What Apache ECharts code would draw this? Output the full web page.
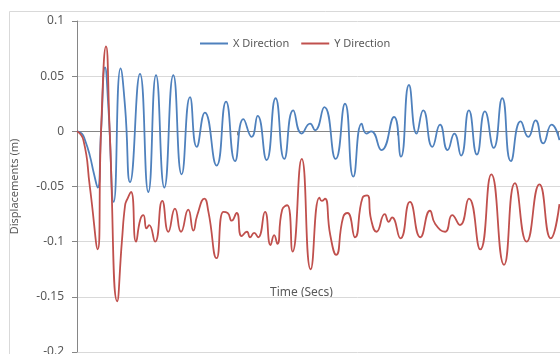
<!DOCTYPE html>
<html>
<head>
<meta charset="utf-8">
<script src="https://cdn.jsdelivr.net/npm/echarts@6/dist/echarts.min.js"></script>
<style>
html,body{margin:0;padding:0;background:#fff;overflow:hidden;width:560px;height:354px;}
#c{width:640px;height:354px;}
</style>
</head>
<body>
<div id="c"></div>
<script>
// Time (s) and displacement (m)
const xDirTime = [0,0.3,0.5,0.8,1.05,1.29,1.5,1.75,1.95,2.29,2.72,3.0,3.31,3.93,4.45,4.93,5.45,6.01,6.53,7.05,7.47,7.98,8.71,9.30,9.86,10.38,10.9,11.27,11.83,12.39,12.93,13.49,14.02,14.54,14.85,15.43,16.14,16.72,17.24,17.76,18.05,18.35,19.0,19.78,20.21,20.71,21.19,21.6,22.17,22.65,23.12,23.54,23.96,24.45,24.95,25.45,26.0,26.53,27.07,27.68,28.16,28.61,29.09,29.61,30.1];
const xDirDisp = [0,-0.002,-0.008,-0.022,-0.038,-0.051,0.0,0.058,0.024,-0.064,0.057,0.022,-0.046,0.052,-0.055,0.051,-0.051,0.051,-0.039,0.031,-0.014,0.017,-0.031,0.027,-0.027,0.011,-0.005,0.014,-0.026,0.030,-0.025,0.019,-0.002,0.007,0.001,0.022,-0.025,0.025,-0.041,0.007,-0.002,0.0,-0.017,0.013,-0.023,0.042,-0.002,0.019,-0.014,0.006,-0.017,-0.002,-0.022,0.019,-0.021,0.018,-0.015,0.030,-0.027,0.009,-0.005,0.010,-0.011,0.006,-0.008];

const yDirTime = [0,0.4,0.8,1.29,1.5,1.81,2.04,2.51,2.8,3.0,3.12,3.37,3.68,3.95,4.14,4.34,4.5,4.87,5.32,5.70,6.11,6.49,6.94,7.26,7.5,7.95,8.2,8.71,9.13,9.40,9.65,9.96,10.27,10.6,10.8,11.05,11.3,11.73,12.08,12.3,12.5,12.8,13.12,13.45,14.02,14.58,15.12,15.27,15.47,15.8,16.17,16.6,16.88,17.34,17.82,18.11,18.35,18.69,19.2,19.45,19.65,20.18,20.77,21.42,22.02,22.35,22.96,23.41,23.89,24.45,25.16,25.85,26.64,27.32,28.05,28.85,29.56,30.1];
const yDirDisp = [0,-0.008,-0.05,-0.107,0.0,0.077,0.0,-0.154,-0.1,-0.067,-0.062,-0.055,-0.100,-0.080,-0.076,-0.088,-0.085,-0.100,-0.063,-0.091,-0.070,-0.091,-0.071,-0.090,-0.076,-0.061,-0.073,-0.115,-0.073,-0.074,-0.081,-0.074,-0.095,-0.091,-0.096,-0.092,-0.096,-0.073,-0.103,-0.094,-0.102,-0.071,-0.067,-0.109,-0.025,-0.125,-0.060,-0.063,-0.061,-0.094,-0.112,-0.078,-0.074,-0.096,-0.060,-0.058,-0.080,-0.091,-0.075,-0.082,-0.078,-0.097,-0.064,-0.096,-0.072,-0.084,-0.091,-0.076,-0.085,-0.061,-0.107,-0.039,-0.121,-0.047,-0.100,-0.048,-0.097,-0.066];

const seriesNames = ['X Direction','Y Direction'];
const xTicks = [0,10,20,30];
const yTickLabels = ['-0.2','-0.15','-0.1','-0.05','0','0.05','0.1'];

const pair = (t, v) => t.map((ti, i) => [ti, v[i]]);

const chart = echarts.init(document.getElementById('c'), null, {renderer:'canvas'});
const txt = '#595959';
const font = 'Noto Sans';
chart.setOption({
  animation:false,
  textStyle:{fontFamily:font},
  grid:{left:77, right:2, top:21, bottom:2, containLabel:false, outerBoundsMode:'none'},
  legend:{
    left:195, top:33, itemGap:12, itemWidth:28, itemHeight:2, icon:'rect',
    textStyle:{color:txt, fontSize:11, fontFamily:font},
    data:seriesNames
  },
  xAxis:{
    type:'value', min:0, max:35, interval:10,
    axisLine:{onZero:true, lineStyle:{color:'#868686', width:1}},
    axisTick:{show:true, length:4, lineStyle:{color:'#868686'}},
    splitLine:{show:false},
    axisLabel:{color:txt, fontSize:12, margin:9, fontFamily:font,
      formatter:v => xTicks.includes(v) ? String(v) : ''}
  },
  yAxis:{
    type:'value', min:-0.2, max:0.1, interval:0.05,
    name:'Displacements (m)', nameLocation:'middle', nameGap:57, nameRotate:90,
    nameTextStyle:{color:txt, fontSize:11, fontFamily:font},
    axisLine:{show:true, lineStyle:{color:'#868686', width:1}},
    axisTick:{show:true, length:5, lineStyle:{color:'#868686'}},
    splitLine:{show:true, lineStyle:{color:'#d9d9d9', width:1}},
    axisLabel:{color:txt, fontSize:12, margin:13, fontFamily:font,
      formatter:v => { const s = String(parseFloat(v.toFixed(2))); return yTickLabels.includes(s) ? s : ''; }}
  },
  graphic:[
    {type:'rect', left:7, top:9, silent:true, z:-10,
     shape:{x:0,y:0,width:700,height:400},
     style:{fill:'none', stroke:'#d9d9d9', lineWidth:1}},
    {type:'text', left:270, top:287, silent:true,
     style:{text:'Time (Secs)', fill:txt, font:'12px "Noto Sans"'}}
  ],
  series:[
    {name:seriesNames[0], type:'line', data:pair(xDirTime, xDirDisp), smooth:0.55,
     symbol:'none', lineStyle:{color:'#4f81bd', width:1.8}, itemStyle:{color:'#4f81bd'}},
    {name:seriesNames[1], type:'line', data:pair(yDirTime, yDirDisp), smooth:0.55,
     symbol:'none', lineStyle:{color:'#c0504d', width:1.8}, itemStyle:{color:'#c0504d'}}
  ]
});
</script>
</body>
</html>
